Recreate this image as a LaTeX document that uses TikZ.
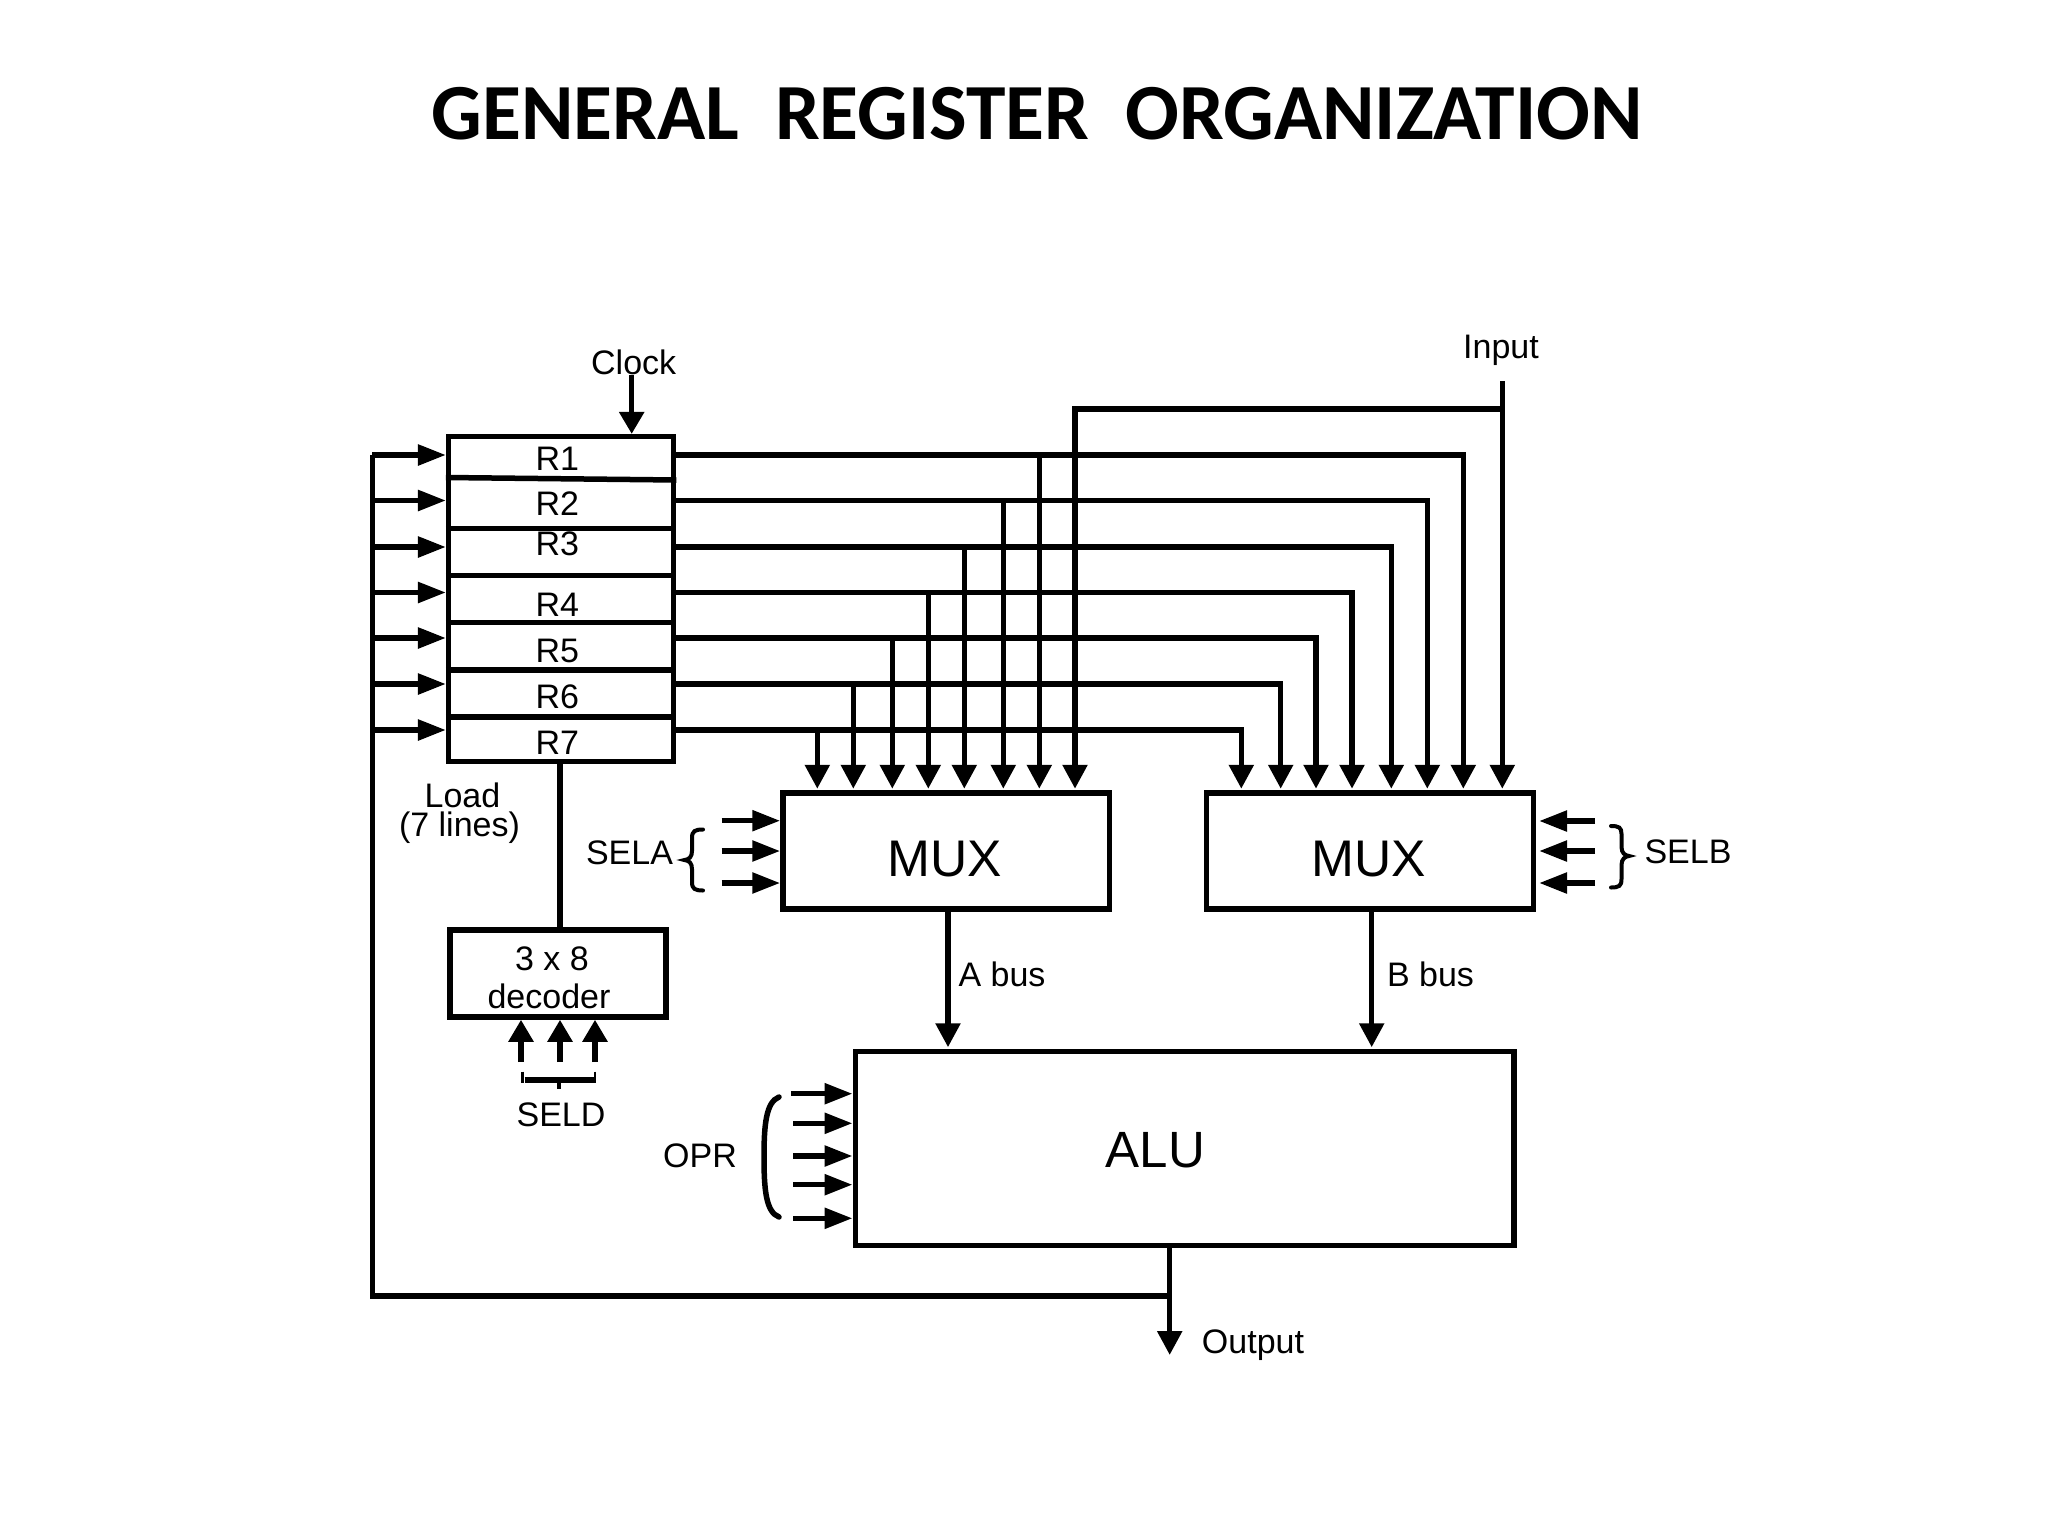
\documentclass[tikz,border=0pt]{standalone}
\usepackage{fontspec}
\setmainfont{Liberation Sans}
\newfontfamily\titlefont{Carlito}
\usetikzlibrary{arrows.meta}
\tikzset{
  box/.style={draw,line width=5.5pt,inner sep=0pt,fill=none},
  wire/.style={line width=5.5pt,line join=miter},
  down/.style={wire,-{Triangle[length=24pt,width=24pt]}},
  side/.style={wire,-{Triangle[length=28pt,width=20pt]}},
  up/.style={wire,-{Triangle[length=22pt,width=24pt]}},
  lab/.style={inner sep=0pt,anchor=base,font=\fontsize{34}{34}\selectfont},
  bigm/.style={inner sep=0pt,anchor=base,font=\fontsize{51.5}{51.5}\selectfont},
  biga/.style={inner sep=0pt,anchor=base,font=\fontsize{51}{51}\selectfont},
  curl/.style={line width=4pt,line cap=round},
}
\begin{document}
\begin{tikzpicture}[x=1pt,y=-1pt]
\useasboundingbox[fill=white] (0,0) rectangle (2048,1536);

% title
\node[inner sep=0pt,anchor=base,font=\titlefont\bfseries\fontsize{79.6}{80}\selectfont] (title) at (1037,140) {GENERAL\ \ REGISTER\ \ ORGANIZATION};

% boxes
\node[box,minimum width=225pt,minimum height=324.6pt] (regs) at (561.2,599) {};
\node[box,minimum width=326.3pt,minimum height=116pt] (muxa) at (946.15,851) {};
\node[box,minimum width=326.6pt,minimum height=116pt] (muxb) at (1370,851) {};
\node[box,minimum width=658.7pt,minimum height=194.2pt] (alu) at (1184.65,1148.6) {};
\node[box,minimum width=216pt,minimum height=87pt] (dec) at (558,973.5) {};

% register dividers
\draw[wire] (regs.west |- 0,477.5) -- (regs.east |- 0,480);
\foreach \y in {528.3,575.3,622.7,670,717}
  \draw[wire] (regs.west |- 0,\y) -- (regs.east |- 0,\y);

% texts
\node[lab] (tclock) at (633.7,374.3) {Clock};
\node[lab] (tinput) at (1501,358) {Input};
\node[lab] (r1) at (557.3,470) {R1};
\node[lab] (r2) at (557.3,515) {R2};
\node[lab] (r3) at (557.3,555) {R3};
\node[lab] (r4) at (557.3,616.7) {R4};
\node[lab] (r5) at (557.3,662.3) {R5};
\node[lab] (r6) at (557.3,708.3) {R6};
\node[lab] (r7) at (557.3,754.3) {R7};
\node[lab] (tload) at (462.5,807.5) {Load};
\node[lab] (tlines) at (459.5,836) {(7 lines)};
\node[lab] (tsela) at (629.5,864) {SELA};
\node[lab] (tselb) at (1688,863) {SELB};
\node[lab] (tdec1) at (552,970) {3 x 8};
\node[lab] (tdec2) at (549,1008) {decoder};
\node[lab] (tseld) at (561,1126) {SELD};
\node[lab] (topr) at (700,1167) {OPR};
\node[lab] (tabus) at (1002,986) {A bus};
\node[lab] (tbbus) at (1430.5,986) {B bus};
\node[lab] (toutput) at (1253,1353) {Output};
\node[bigm] (tmuxa) at (945,876.5) {MUX};
\node[bigm] (tmuxb) at (1369,876) {MUX};
\node[biga] (talu) at (1155.5,1167) {ALU};

% named points
\foreach \n/\y in {1/455,2/500.5,3/547,4/592.5,5/638,6/684,7/730}
  \coordinate (row\n) at (372.3,\y);
\foreach \n/\xa/\xb in {1/1039.3/1463.3,2/1003.3/1427.3,3/964.3/1391.3,4/928.3/1352,5/892.3/1316,6/853.3/1280.7,7/817.3/1241.3}{
  \coordinate (ax\n) at (\xa,0);
  \coordinate (bx\n) at (\xb,0);
}
\coordinate (inx) at (1502.3,381);
\coordinate (branch) at (1502.3,409);
\coordinate (ax0) at (1075,409);
\coordinate (clk) at (631.7,375);
\coordinate (fb) at (372.3,1296);
\coordinate (outx) at (1169.7,1355);
\coordinate (abus) at (948,0);
\coordinate (bbus) at (1371.7,0);
\coordinate (load) at (560,0);

% register outputs and mux inputs
\foreach \n in {1,2,3,4,5,6,7}{
  \draw[wire] (regs.east |- row\n) -- (ax\n |- row\n);
  \draw[down,shorten >=1.5pt] (ax\n |- row\n) -- (ax\n |- muxa.north);
  \draw[down,shorten >=1.5pt] (ax\n |- row\n) -- (bx\n |- row\n) -- (bx\n |- muxb.north);
  \draw[side] (row\n) -- (regs.west |- row\n);
}
\draw[down,shorten >=1.5pt] (inx) -- (inx |- muxb.north);
\draw[down,shorten >=1.5pt] (branch) -- (ax0) -- (ax0 |- muxa.north);

% clock, load, decoder
\draw[wire,-{Triangle[length=22pt,width=24pt]}] (clk) -- (clk |- regs.north);
\draw[wire] (load |- regs.south) -- (load |- dec.north);
\foreach \x/\n in {521/1,560/2,595/3}{
  \coordinate (sd\n) at (\x,1062);
  \draw[up] (sd\n) -- (sd\n |- dec.south);
}

% SELD brace
\draw[line width=6pt] (524.5,1079.7) -- (594,1079.7);
\draw[line width=2.5pt] (522.5,1071.6) -- (522.5,1083);
\draw[line width=2.5pt] (595,1071.6) -- (595,1083);
\draw[line width=4.5pt] (559,1079.7) -- (559,1089);

% SELA
\foreach \y/\n in {820.7/1,851/2,883/3}{
  \coordinate (sa\n) at (721.7,\y);
  \draw[side] (sa\n) -- (sa\n -| muxa.west);
}
\draw[curl] (703,829.5) .. controls (695,829.5) and (692,831) .. (692,838) -- (692,851) .. controls (692,857) and (689,859.5) .. (684.5,860) .. controls (689,860.5) and (692,863) .. (692,869) -- (692,882) .. controls (692,889) and (695,890.5) .. (703,890.5);

% SELB
\foreach \y/\n in {821/1,851/2,883/3}{
  \coordinate (sb\n) at (1595,\y);
  \draw[side,shorten >=3pt] (sb\n) -- (sb\n -| muxb.east);
}
\draw[curl] (1611,826) .. controls (1619,826) and (1621.5,827.5) .. (1621.5,834) -- (1621.5,847) .. controls (1621.5,853) and (1625,855.5) .. (1629,856) .. controls (1625,856.5) and (1621.5,859) .. (1621.5,865) -- (1621.5,879) .. controls (1621.5,886) and (1619,887.5) .. (1611,887.5);

% OPR
\foreach \x/\y/\n in {791/1093.7/1,793/1123.3/2,793/1156/3,793/1184.7/4,793/1218.3/5}{
  \coordinate (op\n) at (\x,\y);
  \draw[side] (op\n) -- (op\n -| alu.west);
}
\draw[wire,line cap=round] (779,1097) .. controls (766,1102) and (764,1125) .. (764,1157) .. controls (764,1190) and (766,1212) .. (779,1217);

% buses
\draw[down,shorten >=1.5pt] (abus |- muxa.south) -- (abus |- alu.north);
\draw[down,shorten >=1.5pt] (bbus |- muxb.south) -- (bbus |- alu.north);
\draw[down] (outx |- alu.south) -- (outx);
\draw[wire] (outx |- fb) -- (fb) -- (row1);
\end{tikzpicture}
\end{document}
